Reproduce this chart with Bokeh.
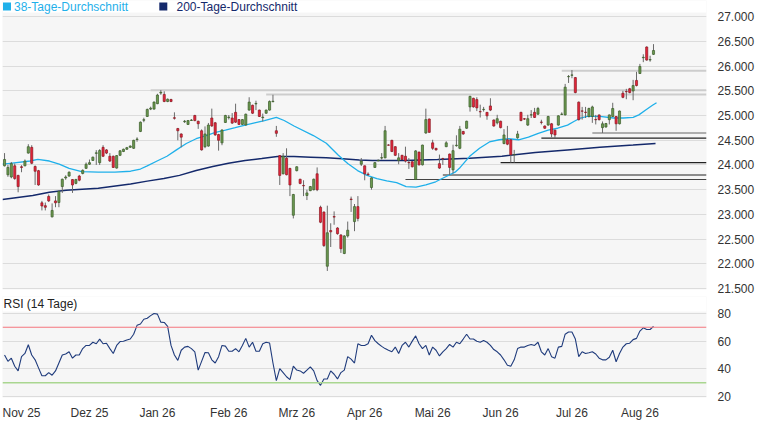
import numpy as np
from bokeh.plotting import figure
from bokeh.models import ColumnDataSource, FixedTicker, Range1d, Span
from bokeh.layouts import column
from bokeh.embed import file_html
from bokeh.resources import INLINE
from bokeh.core.properties import value

# ---------------- data ----------------
open_ = [23982, 23802, 23757, 23982, 23789, 23963, 23982, 24240, 24356, 23969,
         23885, 23234, 23176, 23363, 22950, 23273, 23241, 23563, 23737, 23776,
         23705, 23627, 23776, 23828, 23931, 24015, 24092, 24235, 24047, 24356,
         24305, 24176, 24176, 23937, 24195, 24273, 24318, 24357, 24337, 24515,
         24679, 24905, 24982, 25130, 25130, 25240, 25455, 25427, 25285, 25324,
         24955, 24737, 24627, 24875, 24820, 24900, 25001, 24885, 24692, 24370,
         24382, 24950, 24853, 24615, 24447, 24860, 24958, 24950, 25065, 24918,
         24821, 24808, 25110, 25208, 25235, 25110, 24958, 25047, 25110, 25280,
         24692, 24189, 23821, 24137, 23931, 22983, 23885, 23711, 23585, 23383,
         23480, 23499, 23821, 23144, 23047, 21951, 22673, 22955, 22725, 22583,
         22209, 22564, 23310, 22854, 23157, 24015, 23982, 23815, 23544, 23950,
         24085, 24140, 24144, 24405, 24498, 24370, 24092, 24195, 24176, 24050,
         24066, 23705, 24260, 24002, 24647, 24930, 24447, 24337, 24027, 24128,
         24370, 24221, 23900, 24390, 24337, 24678, 24743, 25175, 25349, 25323,
         25080, 25120, 25065, 25194, 24910, 24852, 24885, 24433, 24510, 24510,
         24205, 24550, 25065, 24935, 24807, 25010, 25065, 25027, 24868, 24788,
         24807, 24833, 24704, 24807, 25023, 25013, 25785, 25815, 25768, 25271,
         25093, 25068, 24981, 24981, 24920, 25013, 24755, 24768, 24917, 24981,
         24981, 24833, 25452, 25486, 25542, 25497, 25710, 25851, 26170, 26387,
         26125, 26238]
high = [24240, 24000, 24060, 24030, 23800, 23995, 24111, 24420, 24400, 23990,
        23900, 23273, 23240, 23402, 23222, 23370, 23480, 23724, 23790, 23870,
        23715, 23720, 23800, 23910, 24050, 24110, 24170, 24300, 24320, 24400,
        24320, 24240, 24190, 24200, 24300, 24330, 24365, 24395, 24510, 24560,
        24880, 24955, 25140, 25180, 25285, 25440, 25515, 25490, 25345, 25340,
        25065, 24750, 24640, 24910, 24910, 24930, 25015, 24895, 24720, 24780,
        24850, 25140, 24870, 24630, 24725, 25015, 25010, 25050, 25240, 24930,
        24930, 25040, 25370, 25220, 25300, 25120, 25040, 25120, 25305, 25420,
        24790, 24200, 24240, 24337, 23940, 23415, 23975, 23720, 23690, 23500,
        23575, 23725, 23950, 23176, 23060, 23176, 22820, 23060, 22740, 22600,
        22580, 22855, 23360, 23210, 23370, 24140, 23990, 23850, 23750, 24060,
        24110, 24240, 24790, 24420, 24510, 24380, 24240, 24205, 24370, 24140,
        24075, 24300, 24270, 24410, 25140, 24940, 24510, 24345, 24210, 24145,
        24480, 24230, 24410, 24600, 24790, 24690, 24895, 25400, 25360, 25370,
        25220, 25175, 25065, 25350, 24920, 25015, 24895, 24725, 24790, 24520,
        24305, 24690, 25075, 24950, 25015, 25110, 25155, 25175, 24915, 24800,
        24995, 24850, 24715, 25005, 25065, 25640, 25820, 25920, 25780, 25285,
        25175, 25175, 25160, 25200, 25013, 25020, 24880, 24850, 25020, 25258,
        24990, 25100, 25500, 25540, 25560, 25722, 25884, 26045, 26240, 26400,
        26210, 26445]
low = [23970, 23760, 23730, 23700, 23447, 23853, 23975, 24230, 24015, 23595,
       23580, 23080, 23080, 23250, 22938, 23145, 23145, 23434, 23700, 23760,
       23434, 23610, 23670, 23810, 23920, 24000, 24080, 24000, 24000, 24160,
       24220, 24060, 23940, 23925, 24180, 24260, 24305, 24345, 24325, 24470,
       24665, 24865, 24970, 25110, 25120, 25230, 25420, 25270, 25270, 25270,
       24918, 24500, 24357, 24850, 24810, 24890, 24885, 24730, 24290, 24340,
       24370, 24770, 24590, 24290, 24400, 24850, 24920, 24830, 24850, 24810,
       24810, 24795, 25100, 25030, 25110, 24970, 24880, 25035, 25100, 25270,
       24570, 23595, 23810, 23790, 23370, 22918, 23870, 23610, 23370, 23290,
       23470, 23485, 23470, 22822, 22340, 21855, 22340, 22790, 22590, 22220,
       22195, 22530, 23050, 22660, 22860, 23980, 23690, 23780, 23500, 23940,
       24075, 24110, 24135, 24390, 24260, 24180, 24015, 24100, 24050, 23920,
       23950, 23700, 23990, 23990, 24630, 24650, 24305, 24290, 23920, 24000,
       24360, 23796, 23830, 24370, 24320, 24610, 24730, 25080, 25160, 25090,
       24960, 25080, 24915, 25090, 24775, 24820, 24740, 24420, 24400, 24047,
       24047, 24530, 24885, 24910, 24790, 24950, 24950, 25015, 24820, 24730,
       24795, 24560, 24544, 24795, 25010, 25000, 25660, 25755, 25450, 24900,
       24917, 24950, 24960, 24852, 24820, 24900, 24647, 24755, 24820, 24970,
       24691, 24820, 25350, 25330, 25450, 25310, 25590, 25840, 26080, 26110,
       26090, 26225]
close = [24111, 23950, 24027, 23724, 23563, 23950, 24079, 24369, 24034, 23873,
         23595, 23170, 23144, 23273, 23080, 23234, 23466, 23711, 23757, 23853,
         23595, 23705, 23692, 23892, 24015, 24047, 24157, 24245, 24292, 24176,
         24240, 24080, 23950, 24189, 24286, 24318, 24350, 24383, 24498, 24525,
         24866, 24915, 25124, 25150, 25272, 25414, 25470, 25285, 25330, 25285,
         24945, 24692, 24563, 24885, 24898, 24908, 24898, 24834, 24305, 24627,
         24808, 24789, 24608, 24499, 24705, 25001, 24968, 24847, 24866, 24821,
         24918, 25027, 25272, 25047, 25245, 24982, 24968, 25110, 25285, 25290,
         24640, 23789, 24176, 23802, 23595, 23402, 23963, 23627, 23578, 23434,
         23563, 23711, 23499, 22841, 22370, 22628, 22647, 22945, 22609, 22306,
         22564, 22680, 23300, 23157, 22918, 24079, 23821, 23805, 23738, 24047,
         24095, 24148, 24692, 24400, 24273, 24195, 24144, 24111, 24079, 24044,
         23963, 24285, 24002, 24402, 24918, 24660, 24337, 24305, 23937, 24122,
         24447, 23950, 24290, 24400, 24724, 24627, 24885, 25388, 25175, 25155,
         25075, 25126, 24994, 25110, 24788, 24936, 24756, 24607, 24420, 24208,
         24210, 24627, 24898, 24928, 24936, 25016, 24962, 25143, 24862, 24743,
         24981, 24627, 24607, 24994, 25029, 25574, 25790, 25822, 25465, 24917,
         25089, 25062, 25142, 25174, 24914, 24917, 24833, 24839, 25013, 25142,
         24833, 25091, 25368, 25482, 25465, 25606, 25607, 25993, 26178, 26122,
         26132, 26316]

# 38-day and 200-day averages (x = candle index)
ma38_x = [-0.6, 1.7, 7.5, 9.8, 13.2, 16.1, 19.0, 22.7, 27.6, 32.5,
          37.1, 40.0, 42.0, 44.9, 47.8, 50.6, 53.5, 56.4, 59.3, 62.1,
          65.0, 67.9, 70.8, 73.6, 76.5, 80.0, 82.3, 85.2, 90.9, 94.7,
          98.1, 101.0, 103.9, 106.7, 109.6, 112.5, 115.4, 118.2, 121.1, 124.0,
          126.9, 129.7, 132.6, 134.1, 136.9, 139.8, 142.7, 145.6, 148.4, 151.3,
          154.2, 157.1, 160.0, 162.8, 165.7, 167.7, 169.5, 171.5, 175.2, 179.2,
          182.1, 185.0, 186.7, 188.7, 190.7, 191.9]
ma38 = [24015, 24034, 24080, 24112, 24080, 24015, 23931, 23867, 23854, 23854,
        23873, 23918, 23983, 24080, 24176, 24305, 24434, 24531, 24595, 24660,
        24705, 24756, 24808, 24853, 24898, 24963, 24900, 24789, 24595, 24440,
        24208, 24028, 23886, 23789, 23725, 23680, 23641, 23563, 23551, 23596,
        23660, 23757, 23854, 23950, 24175, 24337, 24465, 24510, 24530, 24510,
        24562, 24640, 24704, 24743, 24807, 24885, 24950, 24982, 24982, 24950,
        24950, 24963, 25014, 25111, 25208, 25259]
ma200_x = [-0.6, 8.3, 13.2, 18.1, 27.6, 37.1, 42.0, 46.9, 51.5, 56.4,
           61.3, 65.9, 70.8, 75.7, 80.3, 85.2, 90.1, 94.7, 99.5, 104.4,
           108.2, 117.7, 127.5, 136.9, 146.4, 156.2, 165.7, 175.2, 185.0, 191.6]
ma200 = [23300, 23383, 23447, 23486, 23531, 23615, 23673, 23724, 23789, 23886,
         23969, 24034, 24092, 24131, 24169, 24169, 24157, 24144, 24124, 24098,
         24092, 24092, 24112, 24138, 24176, 24254, 24305, 24357, 24402, 24434]

# horizontal resistance (grey) and support (dark) levels, with start candle
res_levels = [25511, 25427, 25904]
res_start = [43, 77, 164]
sup_levels = [24647, 24544, 24047, 23796, 23706]
sup_start = [173, 158, 146, 129, 118]

rsi = [50.0, 45.4, 47.7, 41.9, 38.5, 48.8, 51.1, 57.4, 50.0, 46.5,
       40.7, 35.0, 35.0, 37.3, 35.4, 38.5, 44.2, 50.0, 50.7, 52.3,
       47.7, 50.0, 50.0, 54.6, 56.9, 56.9, 59.2, 58.1, 61.5, 58.1,
       58.5, 54.6, 51.1, 56.9, 59.7, 59.9, 60.8, 61.5, 65.0, 71.4,
       72.4, 75.8, 76.5, 78.4, 80.0, 79.5, 73.7, 73.5, 70.7, 56.9,
       50.0, 46.1, 53.4, 55.7, 56.2, 54.6, 52.3, 39.1, 45.4, 51.8,
       51.6, 46.5, 44.2, 48.8, 56.9, 56.4, 52.7, 52.7, 54.6, 52.3,
       56.9, 62.0, 55.7, 59.2, 52.7, 52.7, 58.1, 59.2, 58.7, 44.2,
       31.5, 40.1, 37.3, 34.3, 32.2, 41.9, 39.1, 38.5, 36.8, 39.1,
       41.4, 38.5, 31.5, 28.1, 32.7, 32.7, 38.5, 36.1, 32.7, 37.3,
       39.1, 48.8, 47.0, 44.2, 58.1, 56.9, 56.9, 58.1, 64.3, 60.4,
       58.1, 56.2, 54.6, 53.4, 52.3, 55.7, 51.1, 56.9, 59.2, 55.7,
       60.0, 63.8, 58.1, 54.6, 56.9, 50.0, 55.7, 53.4, 49.3, 52.3,
       54.6, 57.6, 55.7, 59.2, 58.1, 61.5, 65.0, 61.5, 61.5, 59.9,
       59.2, 60.4, 59.2, 56.9, 53.9, 52.3, 50.0, 46.5, 42.6, 41.9,
       46.5, 54.6, 55.7, 55.7, 56.9, 57.6, 56.9, 59.2, 52.3, 50.0,
       54.6, 48.8, 47.7, 55.7, 56.2, 65.0, 66.6, 66.6, 61.5, 48.8,
       52.3, 51.1, 51.6, 52.3, 50.7, 47.7, 46.5, 46.5, 48.4, 53.4,
       45.1, 51.1, 55.7, 58.1, 58.5, 61.1, 62.0, 67.3, 69.6, 68.4,
       68.4, 70.7]
rsi_upper = 70
rsi_lower = 30

month_idx = [5, 25, 45, 66, 86, 106, 126, 146, 167, 187]
month_labels = ["Nov 25", "Dez 25", "Jan 26", "Feb 26", "Mrz 26",
                "Apr 26", "Mai 26", "Jun 26", "Jul 26", "Aug 26"]
price_ticks = [21500, 22000, 22500, 23000, 23500, 24000, 24500, 25000, 25500,
               26000, 26500, 27000]
price_labels = ["21.500", "22.000", "22.500", "23.000", "23.500", "24.000",
                "24.500", "25.000", "25.500", "26.000", "26.500", "27.000"]
rsi_ticks = [20, 40, 60, 80]
rsi_labels = ["20", "40", "60", "80"]
legend_labels = ["38-Tage-Durchschnitt", "200-Tage-Durchschnitt"]
rsi_title = "RSI (14 Tage)"

# ---------------- styling ----------------
FONT = "Liberation Sans"
C38 = "#1fb0ea"
C200 = "#14296b"
BG = "#f6f6f6"
X0, X1 = -0.6, 206.6
FW = 704
PY0, PY1 = 21480, 27085
RY0, RY1 = 19.3, 81.4
PFH, PSTRIP = 277, 12
RFH, RSTRIP = 86, 15
ux = (X1 - X0) / FW          # x units per pixel
uy = (PY1 - PY0) / PFH       # price units per pixel
ur = (RY1 - RY0) / RFH       # rsi units per pixel
PTOP = PY1 + PSTRIP * uy
RTOP = RY1 + RSTRIP * ur

o = np.array(open_, float)
c = np.array(close, float)
idx = np.arange(len(c))
up = c >= o
src = ColumnDataSource(dict(
    x=idx, top=np.maximum(o, c), bottom=np.minimum(o, c),
    high=high, low=low,
    fill=np.where(up, "#6c9a50", "#e8253b"),
    line=np.where(up, "#3b5c2a", "#8a1a22"),
))

p = figure(frame_width=FW, frame_height=PFH + PSTRIP, min_border_left=2, min_border_right=43,
           min_border_top=0, min_border_bottom=7,
           x_axis_location=None, y_axis_location="right",
           x_range=Range1d(X0, X1), y_range=Range1d(PY0, PTOP),
           output_backend="svg", toolbar_location=None,
           background_fill_color=BG, border_fill_color="white",
           outline_line_color=None)
# white strip above the plotting area that holds the legend
p.quad(left=[X0], right=[X1], bottom=[PY1], top=[PTOP], fill_color="white",
       line_color=None, level="image")
p.xgrid.grid_line_color = None
p.ygrid.ticker = FixedTicker(ticks=price_ticks)
p.ygrid.grid_line_color = "#dcdcdc"
p.ygrid.grid_line_width = 1.2
ax = p.yaxis[0]
ax.ticker = FixedTicker(ticks=price_ticks)
ax.major_label_overrides = dict(zip(price_ticks, price_labels))
ax.axis_line_color = None
ax.major_tick_line_color = None
ax.minor_tick_line_color = None
ax.major_label_standoff = 5
ax.major_label_text_font = FONT
ax.major_label_text_font_size = "12px"
ax.major_label_text_color = "#333333"

# levels
p.segment(x0=res_start, y0=res_levels, x1=[X1] * len(res_levels), y1=res_levels,
          line_color="#cdcdcd", line_width=2)
p.segment(x0=sup_start, y0=sup_levels, x1=[X1] * len(sup_levels), y1=sup_levels,
          line_color=["#666666", "#222222", "#222222", "#222222", "#444444"],
          line_width=1.1)

# averages
p.line(ma200_x, ma200, line_color=C200, line_width=1.5)
p.line(ma38_x, ma38, line_color=C38, line_width=1.3)

# candles
p.segment(x0="x", y0="low", x1="x", y1="high", source=src,
          line_color="#6a6a6a", line_width=1)
p.vbar(x="x", width=0.62, top="top", bottom="bottom", source=src,
       fill_color="fill", line_color="line", line_width=0.7)

# legend in the white strip
LY = PY1 + 6 * uy
p.scatter(x=[X0 + 4.5 * ux, X0 + 160.8 * ux], y=[LY, LY], marker="square", size=8,
          fill_color=[C38, C200], line_color=None)
p.text(x=[X0 + 11.5 * ux, X0 + 174 * ux], y=[LY, LY], text=legend_labels,
       text_color=[C38, C200], text_font=value(FONT), text_font_size=value("12px"),
       text_baseline="middle", text_align="left")

# ---------------- RSI panel ----------------
p2 = figure(frame_width=FW, frame_height=RFH + RSTRIP, min_border_left=2, min_border_right=43,
            min_border_top=0, min_border_bottom=0,
            y_axis_location="right",
            x_range=p.x_range, y_range=Range1d(RY0, RTOP),
            output_backend="svg", toolbar_location=None,
            background_fill_color=BG, border_fill_color="white",
            outline_line_color=None)
p2.quad(left=[X0], right=[X1], bottom=[RY1], top=[RTOP], fill_color="white",
        line_color=None, level="image")
p2.xgrid.grid_line_color = None
p2.ygrid.ticker = FixedTicker(ticks=rsi_ticks)
p2.ygrid.grid_line_color = "#dcdcdc"
p2.ygrid.grid_line_width = 1.2
ay = p2.yaxis[0]
ay.ticker = FixedTicker(ticks=rsi_ticks)
ay.major_label_overrides = dict(zip(rsi_ticks, rsi_labels))
axx = p2.xaxis[0]
axx.ticker = FixedTicker(ticks=month_idx)
axx.major_label_overrides = dict(zip(month_idx, month_labels))
for a in (ay, axx):
    a.axis_line_color = None
    a.major_tick_line_color = None
    a.minor_tick_line_color = None
    a.major_label_text_font = FONT
    a.major_label_text_font_size = "12px"
    a.major_label_text_color = "#333333"
ay.major_label_standoff = 5
axx.major_label_standoff = 2

p2.add_layout(Span(location=rsi_upper, dimension="width", line_color="#f4767e", line_width=1.1))
p2.add_layout(Span(location=rsi_lower, dimension="width", line_color="#a9d690", line_width=1.6))
p2.line(idx, rsi, line_color="#1f3b7c", line_width=1.1)

p2.text(x=[X0 + 1 * ux], y=[RY1 + 8 * ur], text=[rsi_title],
        text_color="#222222", text_font=value(FONT), text_font_size=value("12px"),
        text_baseline="middle", text_align="left")

layout = column(p, p2, spacing=0)
open("out.html", "w").write(file_html(layout, INLINE))
